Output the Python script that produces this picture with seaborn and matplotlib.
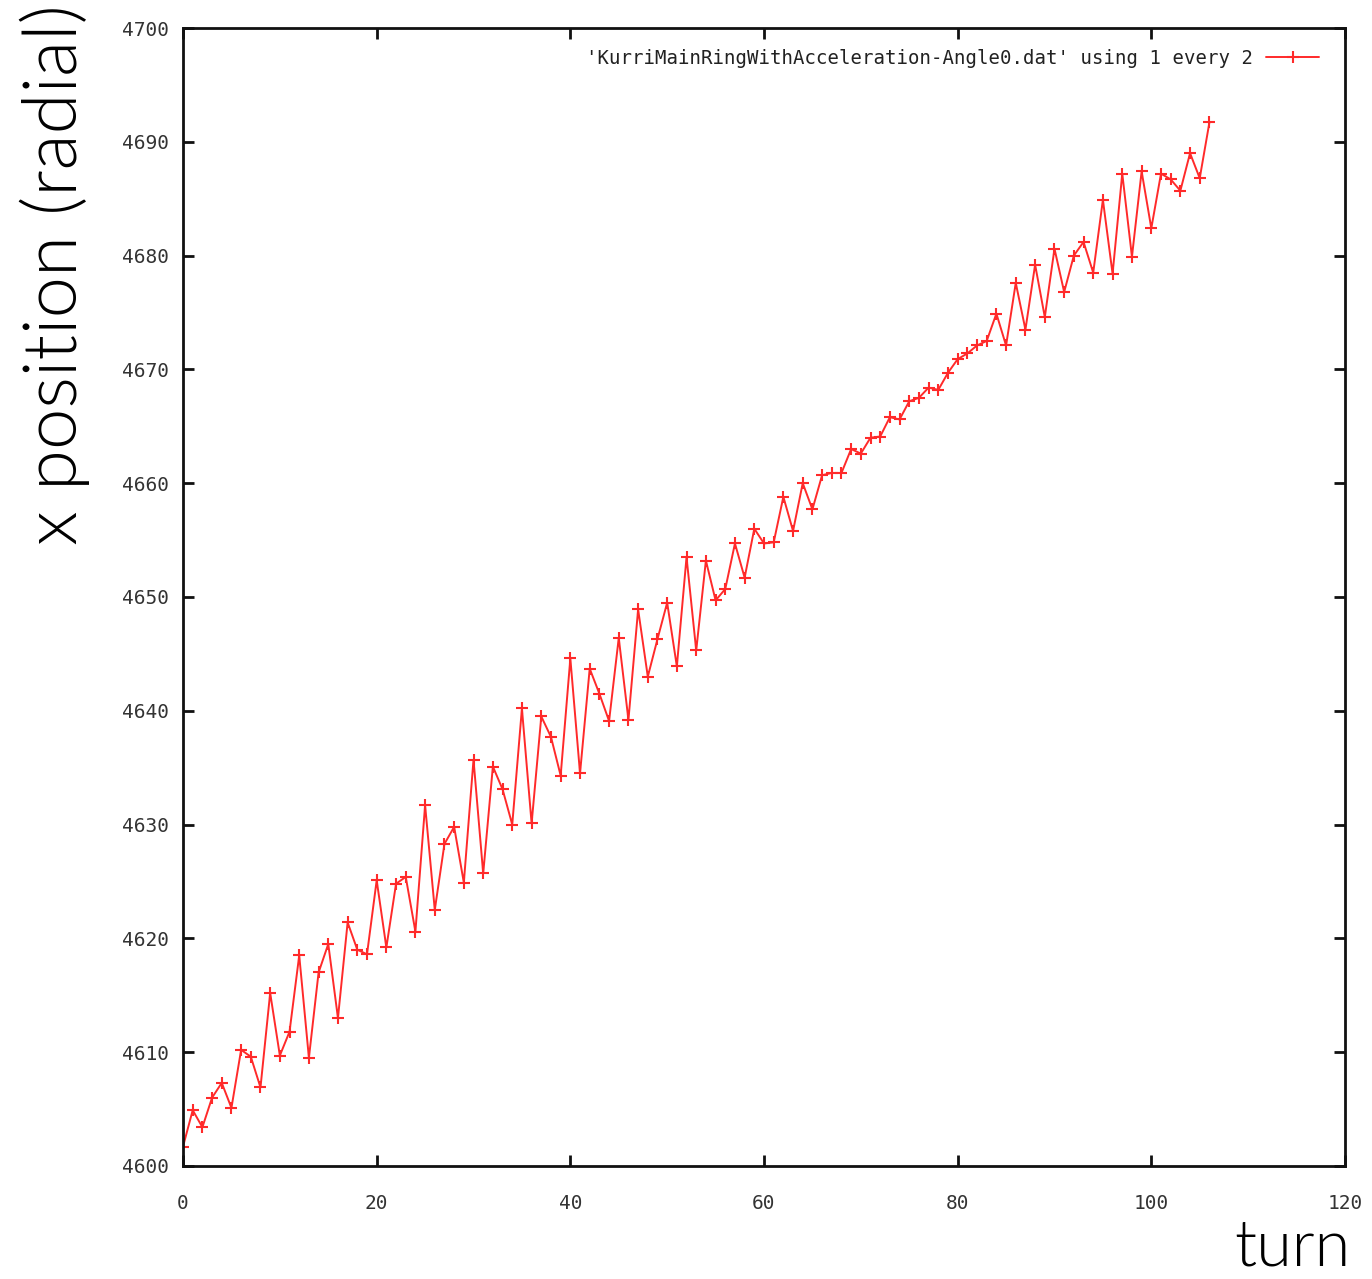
import numpy as np
import pandas as pd
import matplotlib
matplotlib.use("Agg")
import matplotlib.pyplot as plt
import seaborn as sns

# Radial x position of the tracked particle, one value per turn
turns = list(range(0, 107))
x_position = [
    4601.7, 4604.9, 4603.4, 4606.0, 4607.3, 4605.1, 4610.2, 4609.6, 4606.9, 4615.2,
    4609.7, 4611.8, 4618.5, 4609.5, 4617.0, 4619.5, 4613.0, 4621.4, 4619.0, 4618.6,
    4625.1, 4619.2, 4624.8, 4625.4, 4620.6, 4631.7, 4622.5, 4628.3, 4629.8, 4624.9,
    4635.7, 4625.7, 4635.1, 4633.1, 4630.0, 4640.2, 4630.1, 4639.5, 4637.7, 4634.3,
    4644.6, 4634.5, 4643.7, 4641.5, 4639.1, 4646.4, 4639.2, 4648.9, 4643.0, 4646.3,
    4649.5, 4643.9, 4653.5, 4645.3, 4653.2, 4649.7, 4650.7, 4654.7, 4651.7, 4656.0,
    4654.7, 4654.8, 4658.8, 4655.8, 4660.0, 4657.7, 4660.7, 4660.9, 4660.9, 4663.0,
    4662.6, 4664.0, 4664.1, 4665.8, 4665.6, 4667.2, 4667.5, 4668.4, 4668.2, 4669.7,
    4670.9, 4671.4, 4672.1, 4672.5, 4674.9, 4672.1, 4677.6, 4673.5, 4679.2, 4674.6,
    4680.6, 4676.8, 4680.0, 4681.2, 4678.5, 4684.9, 4678.4, 4687.2, 4679.9, 4687.4,
    4682.4, 4687.2, 4686.7, 4685.7, 4689.0, 4686.8, 4691.7,
]
series_label = "'KurriMainRingWithAcceleration-Angle0.dat' using 1 every 2"

x_ticks = [0, 20, 40, 60, 80, 100, 120]
y_ticks = [4600, 4610, 4620, 4630, 4640, 4650, 4660, 4670, 4680, 4690, 4700]

df = pd.DataFrame({"turn": turns, "x": x_position})

sns.set_style("ticks")
plt.rcParams["font.family"] = ["DejaVu Sans"]

fig = plt.figure(figsize=(13.72, 12.79), dpi=100)
ax = fig.add_axes([0.1334, 0.0884, 0.8469, 0.8897])

sns.lineplot(data=df, x="turn", y="x", ax=ax, color="#ff2a2a", linewidth=1.4,
             marker="+", markersize=8, markeredgewidth=1.5,
             markeredgecolor="#ff2a2a", label=series_label)

ax.set_xlim(0, 120)
ax.set_ylim(4600, 4700)
ax.set_xticks(x_ticks)
ax.set_yticks(y_ticks)
ax.set_xlabel("")
ax.set_ylabel("")

for side in ["top", "right", "bottom", "left"]:
    ax.spines[side].set_visible(True)
    ax.spines[side].set_linewidth(2.0)
    ax.spines[side].set_color("#111111")

ax.tick_params(axis="both", which="major", direction="in", length=8, width=2.0,
               top=True, right=True, colors="#111111", labelcolor="#333333")
ax.tick_params(axis="x", pad=20)
ax.tick_params(axis="y", pad=10)
for lbl in ax.get_xticklabels() + ax.get_yticklabels():
    lbl.set_fontfamily("DejaVu Sans Mono")
    lbl.set_fontsize(14)

leg = ax.legend(loc="upper right", frameon=False, handlelength=2.8,
                handletextpad=0.7, borderaxespad=0.4, markerfirst=False,
                prop={"family": "DejaVu Sans Mono", "size": 13.7})
for t in leg.get_texts():
    t.set_color("#222222")
leg.set_bbox_to_anchor((0.991, 0.995), transform=ax.transAxes)

fig.text(55 / 1372, 1 - 4 / 1279, "x position (radial)", rotation=90,
         ha="center", va="top", fontsize=53.5, color="#000000",
         family=["Lato", "DejaVu Sans"], fontweight=300)
fig.text(1351 / 1372, 2 / 1279, "turn", ha="right", va="bottom",
         fontsize=46.5, color="#000000", family=["Lato", "DejaVu Sans"],
         fontweight=300)

fig.savefig("out.png", dpi=100, facecolor="white")
